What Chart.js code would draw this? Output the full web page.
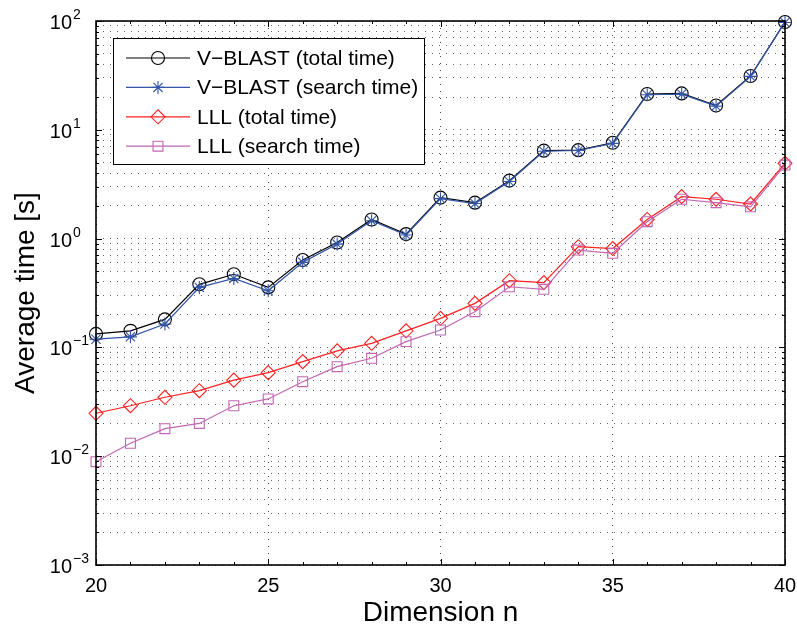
<!DOCTYPE html>
<html>
<head>
<meta charset="utf-8">
<script src="https://cdn.jsdelivr.net/npm/chart.js@4/dist/chart.umd.min.js"></script>
<style>
html,body{margin:0;padding:0;background:#fff;}
canvas{display:block;}
</style>
</head>
<body>
<canvas id="c" width="797" height="628"></canvas>
<script>
// ---- data ----
const dims = [20,21,22,23,24,25,26,27,28,29,30,31,32,33,34,35,36,37,38,39,40];
const vblastTotal  = [0.133,0.142,0.181,0.38,0.47,0.356,0.636,0.92,1.50,1.10,2.38,2.14,3.41,6.43,6.5,7.6,21.3,21.6,16.7,31.2,98];
const vblastSearch = [0.119,0.125,0.164,0.356,0.43,0.332,0.605,0.89,1.46,1.08,2.33,2.10,3.35,6.35,6.45,7.5,21.0,21.3,16.5,31.0,97];
const lllTotal     = [0.0248,0.0291,0.0348,0.040,0.050,0.0586,0.074,0.093,0.109,0.142,0.185,0.254,0.41,0.394,0.843,0.81,1.50,2.43,2.30,2.08,4.92];
const lllSearch    = [0.0089,0.01315,0.0179,0.020,0.0291,0.0336,0.0484,0.0665,0.0794,0.113,0.1445,0.213,0.361,0.342,0.785,0.733,1.43,2.30,2.14,1.96,4.74];
const seriesNames = ['V\u2212BLAST (total time)','V\u2212BLAST (search time)','LLL (total time)','LLL (search time)'];
const xTickLabels = [20,25,30,35,40];
const yDecades = [-3,-2,-1,0,1,2];
const xTitle = 'Dimension n';
const yTitle = 'Average time [s]';

const FONT = '"Liberation Sans", Arial, Helvetica, sans-serif';
const colors = ['#000000','#3356a8','#ff2020','#c466b4'];
const styles = [
  {pointStyle:'circle', radius:6.5},
  {pointStyle:'star', radius:6.5},
  {pointStyle:'rectRot', radius:7},
  {pointStyle:'rect', radius:7}
];
const allSeries = [vblastTotal, vblastSearch, lllTotal, lllSearch];

const yTickVals = [];
for (let k = -3; k <= 1; k++) for (let m = 1; m <= 9; m++) yTickVals.push(+(m * Math.pow(10, k)).toPrecision(3));
yTickVals.push(100);

const datasets = allSeries.map((s, i) => ({
  label: seriesNames[i],
  data: dims.map((d, j) => ({x: d, y: s[j]})),
  borderColor: colors[i],
  backgroundColor: 'rgba(0,0,0,0)',
  pointBorderColor: colors[i],
  pointBackgroundColor: 'rgba(0,0,0,0)',
  borderWidth: 1.2,
  pointBorderWidth: 1.1,
  pointStyle: styles[i].pointStyle,
  pointRadius: styles[i].radius,
  tension: 0,
  clip: false,
  order: 4 - i
}));

function drawMarker(ctx, st, color, x, y) {
  ctx.save();
  ctx.strokeStyle = color;
  ctx.fillStyle = 'rgba(0,0,0,0)';
  ctx.lineWidth = 1.1;
  Chart.helpers.drawPoint(ctx, {pointStyle: st.pointStyle, radius: st.radius, rotation: 0, borderWidth: 1.1}, x, y);
  ctx.restore();
}

const decor = {
  id: 'decor',
  afterDraw(chart) {
    const {ctx, chartArea: a} = chart;
    const x = chart.scales.x, y = chart.scales.y;
    ctx.save();
    // inward ticks
    ctx.strokeStyle = '#000';
    ctx.lineWidth = 1;
    ctx.beginPath();
    for (let n = 20; n <= 40; n++) {
      const px = Math.round(x.getPixelForValue(n)) + 0.5;
      const len = n % 5 === 0 ? 6 : 3;
      ctx.moveTo(px, a.bottom); ctx.lineTo(px, a.bottom - len);
      ctx.moveTo(px, a.top); ctx.lineTo(px, a.top + len);
    }
    yTickVals.forEach(v => {
      const py = Math.round(y.getPixelForValue(v)) + 0.5;
      const major = Math.abs(Math.log10(v) - Math.round(Math.log10(v))) < 1e-6;
      const len = major ? 6 : 3;
      ctx.moveTo(a.left, py); ctx.lineTo(a.left + len, py);
      ctx.moveTo(a.right, py); ctx.lineTo(a.right - len, py);
    });
    ctx.stroke();
    // frame
    ctx.lineWidth = 1.6;
    ctx.strokeRect(a.left, a.top, a.right - a.left, a.bottom - a.top);

    // x tick labels
    ctx.fillStyle = '#000';
    ctx.font = '20px ' + FONT;
    ctx.textAlign = 'center';
    ctx.textBaseline = 'alphabetic';
    xTickLabels.forEach(v => {
      ctx.fillText(String(v), x.getPixelForValue(v), 592);
    });
    // y tick labels 10^k
    yDecades.forEach(k => {
      const py = y.getPixelForValue(Math.pow(10, k));
      ctx.font = '20px ' + FONT;
      ctx.textAlign = 'right';
      ctx.fillText('10', 72, py + 8);
      ctx.font = '14px ' + FONT;
      ctx.textAlign = 'left';
      ctx.fillText(k < 0 ? '\u2212' + (-k) : String(k), 73, py - 2);
    });
    // axis titles
    ctx.font = '28px ' + FONT;
    ctx.textAlign = 'center';
    ctx.fillText(xTitle, (a.left + a.right) / 2, 621);
    ctx.save();
    ctx.translate(34, (a.top + a.bottom) / 2);
    ctx.rotate(-Math.PI / 2);
    ctx.fillText(yTitle, 0, 0);
    ctx.restore();

    // legend
    const bx = 113, by = 38, bw = 311, bh = 126;
    ctx.fillStyle = '#fff';
    ctx.fillRect(bx, by, bw, bh);
    ctx.strokeStyle = '#000';
    ctx.lineWidth = 1;
    ctx.strokeRect(bx + 0.5, by + 0.5, bw, bh);
    ctx.font = '21px ' + FONT;
    ctx.textAlign = 'left';
    ctx.textBaseline = 'middle';
    seriesNames.forEach((name, i) => {
      const ry = by + 20 + i * 29.4;
      ctx.strokeStyle = colors[i];
      ctx.lineWidth = 1.2;
      ctx.beginPath();
      ctx.moveTo(126, ry); ctx.lineTo(190, ry);
      ctx.stroke();
      drawMarker(ctx, styles[i], colors[i], 158, ry);
      ctx.fillStyle = '#000';
      ctx.fillText(name, 197, ry + 1);
    });
    ctx.restore();
  }
};

new Chart(document.getElementById('c'), {
  type: 'line',
  data: {datasets},
  options: {
    responsive: false,
    animation: false,
    events: [],
    layout: {padding: {left: 0, right: 12, top: 21, bottom: 0}},
    plugins: {legend: {display: false}, tooltip: {enabled: false}, title: {display: false}},
    scales: {
      x: {
        type: 'linear', min: 20, max: 40,
        ticks: {display: false, stepSize: 5},
        grid: {color: 'rgba(0,0,0,0.7)', lineWidth: 1, drawTicks: false},
        border: {display: false, dash: [1, 6]},
        afterFit(s) { s.height = 63; }
      },
      y: {
        type: 'logarithmic', min: 0.001, max: 100,
        ticks: {display: false, autoSkip: false},
        afterBuildTicks(s) { s.ticks = yTickVals.map(v => ({value: v})); },
        grid: {color: 'rgba(0,0,0,0.6)', lineWidth: 1, drawTicks: false},
        border: {display: false, dash: [1, 6]},
        afterFit(s) { s.width = 96; }
      }
    }
  },
  plugins: [decor]
});
</script>
</body>
</html>
